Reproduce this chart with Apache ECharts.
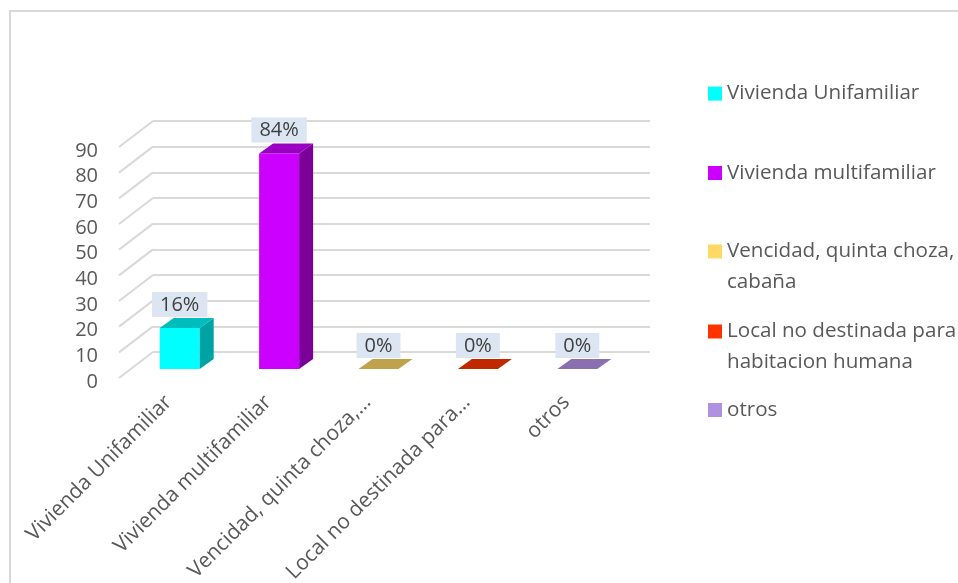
<!DOCTYPE html>
<html>
<head>
<meta charset="utf-8">
<script src="https://cdn.jsdelivr.net/npm/echarts@6/dist/echarts.min.js"></script>
<style>
  html, body { margin: 0; padding: 0; background: #fff; }
  #chart { width: 958px; height: 583px; }
</style>
</head>
<body>
<div id="chart"></div>
<script>
const categories = ['Vivienda Unifamiliar', 'Vivienda multifamiliar', 'Vencidad, quinta choza, cabaña', 'Local no destinada para habitacion humana', 'otros']
const axisLabels = ['Vivienda Unifamiliar', 'Vivienda multifamiliar', 'Vencidad, quinta choza,…', 'Local no destinada para…', 'otros']
const legendLabels = ['Vivienda Unifamiliar', 'Vivienda multifamiliar', 'Vencidad, quinta choza,\ncabaña', 'Local no destinada para\nhabitacion humana', 'otros']
const values = [16, 84, 0, 0, 0]
const yTicks = [0, 10, 20, 30, 40, 50, 60, 70, 80, 90]

// colours: legend / front face, top face, side face
const frontColors = ['#00FFFF', '#CC00FF', '#FFD966', '#FF3300', '#B090E0']
const topColors = ['#00BDBD', '#9A00C2', '#BFA24C', '#C02800', '#8A70B0']
const sideColors = ['#00A3A3', '#7A0099', '#A08838', '#A02000', '#735C96']

const font = '"Open Sans", sans-serif'
const textColor = '#595959'
const gridColor = '#d9d9d9'
const depthX = 14
const depthY = -10
const barHalf = 20

const dom = echarts.init(document.getElementById('chart'))

function barRender (i) {
  return function (params, api) {
    const v = api.value(1)
    const base = api.coord([api.value(0), 0])
    const top = api.coord([api.value(0), v])
    const x0 = base[0] - barHalf
    const x1 = base[0] + barHalf
    const yb = base[1]
    const yt = top[1]
    const children = []
    if (v > 0) {
      children.push({
        type: 'rect',
        shape: { x: x0, y: yt, width: x1 - x0, height: yb - yt },
        style: { fill: frontColors[i] }
      })
      children.push({
        type: 'polygon',
        shape: { points: [[x1, yt], [x1 + depthX, yt + depthY], [x1 + depthX, yb + depthY], [x1, yb]] },
        style: { fill: sideColors[i] }
      })
    }
    children.push({
      type: 'polygon',
      shape: { points: [[x0, yt], [x1, yt], [x1 + depthX, yt + depthY], [x0 + depthX, yt + depthY]] },
      style: { fill: topColors[i] }
    })
    children.push({
      type: 'text',
      x: base[0],
      y: yt + depthY - 1,
      style: {
        text: v + '%',
        fill: '#404040',
        font: '20px ' + font,
        align: 'center',
        verticalAlign: 'bottom',
        backgroundColor: '#DCE6F2',
        padding: [1, 8, 0, 8],
        lineHeight: 24
      }
    })
    return { type: 'group', children }
  }
}

const legendCenters = [93.6, 173, 251.5, 331.5, 410]

const gridBase = { containLabel: false, outerBoundsMode: 'none' }

const option = {
  animation: false,
  graphic: [
    {
      type: 'rect',
      shape: { x: 10, y: 11, width: 1000, height: 1000 },
      style: { fill: 'none', stroke: gridColor, lineWidth: 2 },
      silent: true
    }
  ],
  legend: categories.map((name, i) => {
    const lines = legendLabels[i].split('\n').length
    // a leading blank line keeps the first text line level with the square
    const text = lines > 1 ? '\n' + legendLabels[i] : legendLabels[i]
    return {
      data: [name],
      left: 708,
      top: legendCenters[i] - (lines > 1 ? 46.5 : 15.5),
      padding: 0,
      orient: 'vertical',
      icon: 'rect',
      itemWidth: 14,
      itemHeight: 14,
      selectedMode: false,
      formatter: () => text,
      textStyle: {
        color: textColor,
        fontSize: 20.6,
        fontFamily: font,
        lineHeight: 31
      }
    }
  }),
  grid: [
    Object.assign({ left: 119, top: 147, width: 497, height: 231 }, gridBase),
    Object.assign({ left: 153, top: 121, width: 497, height: 231 }, gridBase),
    Object.assign({ left: 130, top: 138, width: 497, height: 231 }, gridBase)
  ],
  xAxis: [
    {
      gridIndex: 0,
      type: 'category',
      data: categories,
      axisLine: { show: false },
      axisTick: { show: false },
      axisLabel: {
        interval: 0,
        rotate: 45,
        margin: 21,
        color: textColor,
        fontSize: 21,
        fontFamily: font,
        formatter: (val, idx) => axisLabels[idx]
      }
    },
    { gridIndex: 1, type: 'category', data: categories, show: false },
    { gridIndex: 2, type: 'category', data: categories, show: false }
  ],
  yAxis: [
    {
      gridIndex: 0,
      type: 'value',
      min: 0,
      max: 90,
      interval: 10,
      axisLine: { show: false },
      axisTick: { show: false },
      splitLine: { show: false },
      axisLabel: {
        margin: 21,
        formatter: v => '{n|' + v + '}',
        rich: { n: { color: textColor, fontSize: 20, fontFamily: font, padding: [8, 0, 0, 0] } }
      }
    },
    {
      gridIndex: 1,
      type: 'value',
      min: 0,
      max: 90,
      interval: 10,
      axisLine: { show: false },
      axisTick: { show: false },
      axisLabel: { show: false },
      splitLine: { lineStyle: { color: gridColor, width: 2 } }
    },
    { gridIndex: 2, type: 'value', min: 0, max: 90, interval: 10, show: false }
  ],
  series: [
    {
      type: 'custom',
      xAxisIndex: 0,
      yAxisIndex: 0,
      silent: true,
      z: 1,
      data: yTicks.map(v => [0, v]),
      renderItem: (params, api) => {
        const y = api.coord([0, api.value(1)])[1]
        const x = params.coordSys.x
        return {
          type: 'line',
          shape: { x1: x, y1: y, x2: x + 34, y2: y - 26 },
          style: { stroke: gridColor, lineWidth: 2 }
        }
      }
    }
  ].concat(categories.map((name, i) => ({
    name,
    type: 'custom',
    xAxisIndex: 2,
    yAxisIndex: 2,
    itemStyle: { color: frontColors[i] },
    data: [[i, values[i]]],
    renderItem: barRender(i)
  })))
}

dom.setOption(option)
window.addEventListener('resize', () => dom.resize())
</script>
</body>
</html>
